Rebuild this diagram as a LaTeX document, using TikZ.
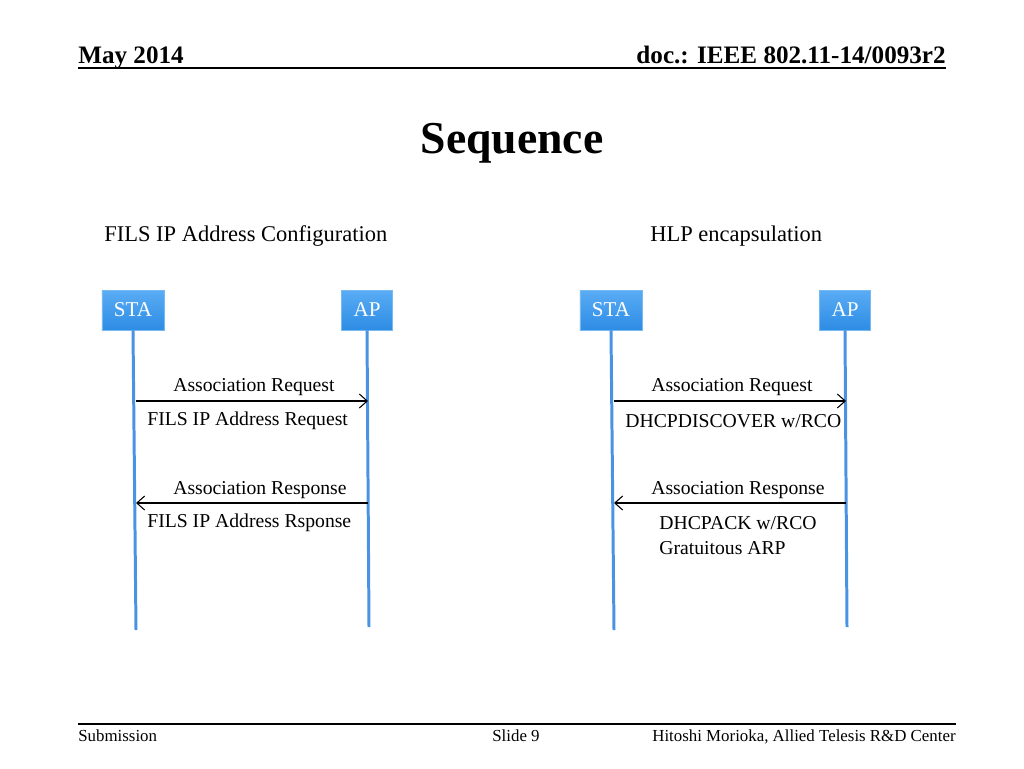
\documentclass[tikz,border=0pt]{standalone}
\usepackage{fontspec}
\setmainfont{Liberation Serif}
\usetikzlibrary{positioning}
\usetikzlibrary{arrows.meta}

\definecolor{lifeblue}{RGB}{74,146,228}
\definecolor{boxtop}{RGB}{90,172,245}
\definecolor{boxbot}{RGB}{45,140,228}
\definecolor{boxedge}{RGB}{120,185,240}

\begin{document}
\begin{tikzpicture}[x=0.02cm,y=-0.02cm,
    party/.style={draw=boxedge, top color=boxtop, bottom color=boxbot,
      text=white, font=\fontsize{12}{14}\selectfont, minimum height=0.8cm,
      inner xsep=0.24cm},
    life/.style={draw=lifeblue, line width=1.7pt},
    msg/.style={-{Straight Barb[length=4.5pt,width=8pt]}, line width=0.6pt},
    lbl/.style={font=\fontsize{11.2}{13}\selectfont, inner sep=0pt},
    head/.style={font=\fontsize{14.3}{16}\selectfont\bfseries, inner sep=0pt},
    foot/.style={font=\fontsize{9.6}{11}\selectfont, inner sep=0pt}]
  \useasboundingbox (0,0) rectangle (1024,768);

  % slide frame
  \node (date) [head, anchor=base west] at (78,63) {May 2014};
  \node (doc) [head, anchor=base east] at (946,63) {doc.: IEEE 802.11-14/0093r2};
  \draw[line width=1.1pt] (78,68) -- (946,68);
  \node (title) [font=\fontsize{26}{30}\selectfont\bfseries] at (512,143) {Sequence};
  \draw[line width=1pt] (78,724) -- (956,724);
  \node (sub) [foot, anchor=base west] at (78,741) {Submission};
  \node (slide) [foot, anchor=base] at (516,741) {Slide 9};
  \node (auth) [foot, anchor=base east] at (956,741) {Hitoshi Morioka, Allied Telesis R\&D Center};

  % left: FILS IP address configuration
  \node (cfg) [font=\fontsize{12.8}{15}\selectfont, anchor=west, inner sep=0pt] at (104,236) {FILS IP Address Configuration};
  \node (sta1) [party] at (133,310) {STA};
  \node (ap1) [party] at (367,310) {AP};
  \coordinate (sta1end) at (136,630);
  \coordinate (ap1end) at (369,627);
  \draw[life] (sta1.south) -- (sta1end);
  \draw[life] (ap1.south) -- (ap1end);
  \coordinate (sta1req) at (136,401);
  \coordinate (ap1req) at (368,401);
  \coordinate (sta1rsp) at (136,503);
  \coordinate (ap1rsp) at (368,503);
  \draw[msg] (sta1req) -- (ap1req);
  \draw[msg] (ap1rsp) -- (sta1rsp);
  \node (req1) [lbl, anchor=west] at (173,387) {Association Request};
  \node (ipreq) [lbl, anchor=west] at (147,421) {FILS IP Address Request};
  \node (rsp1) [lbl, anchor=west] at (173,490) {Association Response};
  \node (iprsp) [lbl, anchor=west] at (147,523) {FILS IP Address Rsponse};

  % right: HLP encapsulation
  \node (hlp) [font=\fontsize{12.8}{15}\selectfont, anchor=west, inner sep=0pt] at (650,236) {HLP encapsulation};
  \node (sta2) [party] at (611,310) {STA};
  \node (ap2) [party] at (845,310) {AP};
  \coordinate (sta2end) at (614,630);
  \coordinate (ap2end) at (847,627);
  \draw[life] (sta2.south) -- (sta2end);
  \draw[life] (ap2.south) -- (ap2end);
  \coordinate (sta2req) at (614,401);
  \coordinate (ap2req) at (846,401);
  \coordinate (sta2rsp) at (614,503);
  \coordinate (ap2rsp) at (846,503);
  \draw[msg] (sta2req) -- (ap2req);
  \draw[msg] (ap2rsp) -- (sta2rsp);
  \node (req2) [lbl, anchor=west] at (651,387) {Association Request};
  \node (disc) [lbl, anchor=west] at (625,421) {DHCPDISCOVER w/RCO};
  \node (rsp2) [lbl, anchor=west] at (651,490) {Association Response};
  \node (ack) [lbl, anchor=west] at (659,523) {DHCPACK w/RCO};
  \node (arp) [lbl, anchor=west] at (659,548) {Gratuitous ARP};
\end{tikzpicture}
\end{document}
